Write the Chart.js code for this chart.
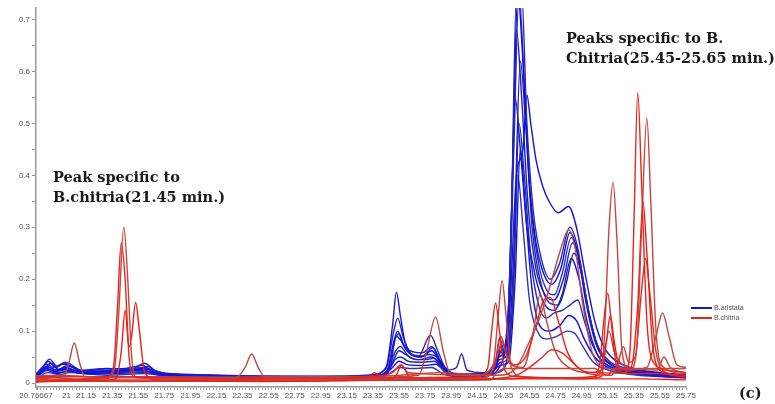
<!DOCTYPE html>
<html>
<head>
<meta charset="utf-8">
<script src="https://cdn.jsdelivr.net/npm/chart.js@4.4.0/dist/chart.umd.min.js"></script>
<style>
body { margin: 0; background: #fff; }
#wrap { position: relative; width: 775px; height: 404px; }
.note { position: absolute; font-family: "DejaVu Serif", serif; font-weight: bold; font-size: 14.5px; line-height: 19.5px; color: #1a1a1a; white-space: nowrap; }
#legend { position: absolute; left: 691px; top: 303px; font-family: "Liberation Sans", Arial, sans-serif; font-size: 7px; color: #555; line-height: 10px; }
#legend span.sw { display: inline-block; width: 21px; height: 2px; vertical-align: middle; margin-right: 2px; }
</style>
</head>
<body>
<div id="wrap">
  <canvas id="myChart" width="775" height="404"></canvas>
  <div class="note" style="left:53px;top:167px;">Peak specific to<br>B.chitria(21.45 min.)</div>
  <div class="note" style="left:566px;top:28px;">Peaks specific to B.<br>Chitria(25.45-25.65 min.)</div>
  <div class="note" style="left:739px;top:383px;">(c)</div>
  <div id="legend"></div>
</div>
<script>
// тики оси X (время, мин)
const xMajor = [20.76667, 21, 21.15, 21.35, 21.55, 21.75, 21.95, 22.15, 22.35, 22.55, 22.75, 22.95, 23.15,
  23.35, 23.55, 23.75, 23.95, 24.15, 24.35, 24.55, 24.75, 24.95, 25.15, 25.35, 25.55, 25.75];
const xLabels = ['20.76667', '21', '21.15', '21.35', '21.55', '21.75', '21.95', '22.15', '22.35', '22.55', '22.75', '22.95', '23.15',
  '23.35', '23.55', '23.75', '23.95', '24.15', '24.35', '24.55', '24.75', '24.95', '25.15', '25.35', '25.55', '25.75'];
const yMajor = [0, 0.1, 0.2, 0.3, 0.4, 0.5, 0.6, 0.7];
const yLabels = ['0', '0.1', '0.2', '0.3', '0.4', '0.5', '0.6', '0.7'];

// B.aristata
const aristata1 = [[20.767,0.016],[20.82,0.03],[20.86,0.042],[20.92,0.03],[20.97,0.036],[21.02,0.034],[21.1,0.024],[21.25,0.027],[21.45,0.028],[21.58,0.034],[21.66,0.022],[21.8,0.018],[22.1,0.015],[22.6,0.013],[23.1,0.013],[23.35,0.016],[23.45,0.03],[23.5,0.11],[23.53,0.175],[23.56,0.13],[23.6,0.075],[23.66,0.06],[23.73,0.058],[23.8,0.07],[23.86,0.045],[23.95,0.02],[24.1,0.016],[24.25,0.022],[24.31,0.05],[24.36,0.06],[24.4,0.15],[24.45,0.4],[24.5,0.45],[24.53,0.555],[24.56,0.5],[24.6,0.43],[24.65,0.38],[24.7,0.35],[24.77,0.328],[24.85,0.34],[24.91,0.3],[24.97,0.22],[25.05,0.12],[25.12,0.07],[25.2,0.045],[25.35,0.028],[25.55,0.02],[25.75,0.016]];
const aristata2 = [[20.767,0.014],[20.83,0.035],[20.87,0.046],[20.93,0.032],[20.99,0.04],[21.04,0.035],[21.12,0.022],[21.3,0.028],[21.5,0.027],[21.6,0.038],[21.68,0.024],[21.85,0.017],[22.2,0.014],[22.8,0.012],[23.3,0.014],[23.45,0.028],[23.51,0.1],[23.54,0.125],[23.58,0.09],[23.63,0.06],[23.7,0.052],[23.79,0.092],[23.85,0.06],[23.92,0.025],[23.99,0.03],[24.03,0.056],[24.07,0.025],[24.2,0.02],[24.29,0.04],[24.32,0.087],[24.36,0.06],[24.41,0.3],[24.45,0.75],[24.49,0.75],[24.53,0.5],[24.58,0.33],[24.64,0.24],[24.71,0.2],[24.78,0.23],[24.86,0.3],[24.92,0.26],[24.98,0.17],[25.06,0.08],[25.15,0.045],[25.3,0.028],[25.5,0.02],[25.75,0.014]];
const aristata3 = [[20.767,0.01],[20.84,0.03],[20.88,0.038],[20.94,0.026],[21.0,0.033],[21.06,0.03],[21.15,0.02],[21.35,0.024],[21.55,0.026],[21.62,0.032],[21.7,0.02],[21.9,0.015],[22.4,0.012],[23.0,0.011],[23.35,0.013],[23.46,0.025],[23.51,0.08],[23.54,0.1],[23.58,0.075],[23.64,0.055],[23.72,0.05],[23.8,0.062],[23.87,0.038],[23.95,0.018],[24.2,0.016],[24.3,0.035],[24.33,0.07],[24.37,0.05],[24.42,0.4],[24.46,0.75],[24.5,0.62],[24.55,0.38],[24.6,0.27],[24.66,0.21],[24.72,0.19],[24.79,0.22],[24.86,0.29],[24.92,0.25],[24.98,0.16],[25.06,0.075],[25.15,0.04],[25.3,0.025],[25.5,0.018],[25.75,0.013]];
const aristata4 = [[20.767,0.018],[20.85,0.036],[20.9,0.03],[20.98,0.038],[21.05,0.03],[21.15,0.023],[21.4,0.025],[21.6,0.03],[21.7,0.02],[22.0,0.016],[22.5,0.013],[23.2,0.012],[23.4,0.015],[23.47,0.03],[23.52,0.085],[23.55,0.095],[23.59,0.07],[23.65,0.055],[23.73,0.052],[23.81,0.068],[23.88,0.035],[23.96,0.018],[24.22,0.018],[24.3,0.04],[24.34,0.065],[24.38,0.06],[24.43,0.45],[24.47,0.75],[24.51,0.58],[24.56,0.35],[24.62,0.23],[24.68,0.18],[24.74,0.17],[24.8,0.21],[24.87,0.28],[24.93,0.24],[24.99,0.15],[25.07,0.07],[25.16,0.038],[25.3,0.024],[25.5,0.018],[25.75,0.013]];
const aristata5 = [[20.767,0.012],[20.85,0.032],[20.92,0.025],[21.0,0.03],[21.1,0.022],[21.3,0.022],[21.6,0.028],[21.75,0.018],[22.2,0.013],[23.0,0.01],[23.4,0.013],[23.48,0.03],[23.53,0.09],[23.57,0.08],[23.62,0.06],[23.7,0.05],[23.78,0.055],[23.84,0.05],[23.9,0.03],[24.0,0.015],[24.25,0.018],[24.33,0.06],[24.37,0.05],[24.41,0.3],[24.45,0.68],[24.49,0.55],[24.54,0.34],[24.6,0.22],[24.67,0.17],[24.74,0.16],[24.81,0.2],[24.88,0.27],[24.94,0.23],[25.0,0.14],[25.08,0.065],[25.18,0.035],[25.35,0.022],[25.55,0.016],[25.75,0.012]];
const aristata6 = [[20.767,0.015],[20.86,0.03],[20.93,0.024],[21.0,0.028],[21.12,0.02],[21.4,0.022],[21.62,0.026],[21.8,0.016],[22.4,0.012],[23.2,0.011],[23.45,0.018],[23.52,0.06],[23.56,0.07],[23.62,0.052],[23.7,0.045],[23.8,0.05],[23.9,0.025],[24.0,0.014],[24.26,0.02],[24.32,0.045],[24.38,0.055],[24.43,0.25],[24.48,0.62],[24.52,0.5],[24.57,0.3],[24.63,0.2],[24.7,0.155],[24.77,0.15],[24.83,0.19],[24.89,0.25],[24.95,0.21],[25.01,0.13],[25.09,0.06],[25.2,0.032],[25.4,0.02],[25.75,0.012]];
const aristata7 = [[20.767,0.011],[20.85,0.028],[20.92,0.022],[21.0,0.026],[21.1,0.019],[21.35,0.02],[21.58,0.024],[21.75,0.015],[22.3,0.012],[23.1,0.01],[23.42,0.014],[23.5,0.04],[23.55,0.062],[23.6,0.055],[23.68,0.045],[23.76,0.045],[23.82,0.048],[23.9,0.025],[24.0,0.013],[24.22,0.016],[24.3,0.03],[24.35,0.05],[24.4,0.2],[24.44,0.55],[24.48,0.45],[24.53,0.3],[24.6,0.2],[24.67,0.15],[24.74,0.14],[24.8,0.17],[24.87,0.24],[24.93,0.2],[24.99,0.12],[25.07,0.055],[25.18,0.03],[25.4,0.018],[25.75,0.011]];
const aristata8 = [[20.767,0.013],[20.86,0.026],[20.94,0.02],[21.02,0.024],[21.15,0.018],[21.4,0.02],[21.6,0.022],[21.8,0.014],[22.5,0.011],[23.3,0.01],[23.45,0.016],[23.52,0.045],[23.56,0.05],[23.62,0.042],[23.72,0.04],[23.82,0.042],[23.9,0.022],[24.0,0.012],[24.25,0.015],[24.33,0.04],[24.38,0.045],[24.43,0.2],[24.47,0.5],[24.51,0.4],[24.56,0.24],[24.62,0.15],[24.68,0.125],[24.74,0.135],[24.8,0.14],[24.86,0.15],[24.92,0.16],[24.97,0.12],[25.03,0.075],[25.1,0.045],[25.2,0.028],[25.4,0.017],[25.75,0.011]];
const aristata9 = [[20.767,0.01],[20.85,0.024],[20.93,0.018],[21.0,0.022],[21.2,0.017],[21.6,0.02],[21.8,0.013],[22.6,0.01],[23.4,0.011],[23.5,0.03],[23.55,0.042],[23.62,0.035],[23.75,0.034],[23.83,0.036],[23.92,0.018],[24.1,0.012],[24.28,0.018],[24.34,0.035],[24.39,0.04],[24.44,0.2],[24.48,0.45],[24.52,0.33],[24.57,0.18],[24.63,0.11],[24.7,0.1],[24.78,0.11],[24.85,0.13],[24.91,0.12],[24.97,0.085],[25.05,0.05],[25.15,0.03],[25.35,0.018],[25.75,0.01]];
const aristata10 = [[20.767,0.009],[20.86,0.02],[20.95,0.016],[21.02,0.02],[21.3,0.015],[21.6,0.018],[21.8,0.012],[22.7,0.009],[23.4,0.01],[23.5,0.022],[23.55,0.03],[23.65,0.028],[23.8,0.03],[23.9,0.016],[24.1,0.011],[24.3,0.02],[24.36,0.03],[24.42,0.15],[24.46,0.4],[24.5,0.3],[24.55,0.16],[24.61,0.1],[24.68,0.085],[24.76,0.09],[24.84,0.1],[24.9,0.095],[24.96,0.07],[25.04,0.04],[25.15,0.025],[25.35,0.016],[25.75,0.01]];

// B.chitria
const chitria1 = [[20.767,0.008],[20.9,0.01],[21.1,0.008],[21.3,0.01],[21.36,0.03],[21.39,0.14],[21.42,0.27],[21.45,0.2],[21.48,0.05],[21.52,0.012],[21.8,0.01],[22.3,0.008],[23.0,0.009],[23.5,0.01],[24.15,0.012],[24.23,0.03],[24.26,0.1],[24.29,0.154],[24.32,0.1],[24.36,0.025],[24.45,0.012],[24.8,0.01],[25.05,0.012],[25.09,0.04],[25.12,0.12],[25.15,0.173],[25.18,0.11],[25.22,0.03],[25.28,0.02],[25.32,0.06],[25.35,0.3],[25.38,0.56],[25.41,0.38],[25.45,0.12],[25.5,0.04],[25.6,0.025],[25.75,0.02]];
const chitria2 = [[20.767,0.005],[21.0,0.007],[21.3,0.008],[21.37,0.03],[21.4,0.13],[21.44,0.3],[21.47,0.2],[21.5,0.05],[21.54,0.01],[22.0,0.007],[22.8,0.006],[23.5,0.008],[24.2,0.01],[24.27,0.03],[24.31,0.13],[24.34,0.197],[24.37,0.13],[24.41,0.03],[24.5,0.012],[24.9,0.01],[25.08,0.015],[25.12,0.07],[25.16,0.3],[25.19,0.387],[25.22,0.28],[25.26,0.06],[25.32,0.025],[25.37,0.06],[25.41,0.3],[25.45,0.51],[25.48,0.35],[25.52,0.1],[25.58,0.03],[25.75,0.018]];
const chitria3 = [[20.767,0.003],[21.2,0.005],[21.38,0.008],[21.42,0.06],[21.45,0.14],[21.48,0.07],[21.5,0.09],[21.53,0.155],[21.56,0.1],[21.6,0.02],[21.7,0.006],[22.5,0.004],[23.4,0.006],[24.3,0.008],[24.9,0.008],[25.1,0.012],[25.14,0.08],[25.17,0.13],[25.2,0.08],[25.25,0.02],[25.33,0.03],[25.38,0.15],[25.42,0.35],[25.45,0.25],[25.5,0.06],[25.58,0.02],[25.75,0.012]];
const chitria4 = [[20.767,0.01],[20.98,0.012],[21.02,0.04],[21.06,0.077],[21.1,0.04],[21.14,0.012],[21.6,0.01],[22.3,0.01],[22.37,0.03],[22.42,0.056],[22.47,0.03],[22.52,0.012],[23.2,0.01],[23.7,0.015],[23.76,0.06],[23.83,0.127],[23.89,0.06],[23.95,0.015],[24.3,0.015],[24.45,0.03],[24.55,0.08],[24.62,0.12],[24.7,0.18],[24.78,0.25],[24.85,0.295],[24.9,0.26],[24.96,0.15],[25.03,0.06],[25.12,0.03],[25.3,0.025],[25.45,0.03],[25.52,0.09],[25.57,0.135],[25.62,0.09],[25.68,0.035],[25.75,0.03]];
const chitria5 = [[20.767,0.006],[21.5,0.006],[22.5,0.005],[23.5,0.007],[24.2,0.008],[24.45,0.015],[24.55,0.03],[24.65,0.05],[24.72,0.064],[24.8,0.058],[24.9,0.035],[25.0,0.018],[25.18,0.015],[25.23,0.04],[25.27,0.07],[25.31,0.04],[25.36,0.05],[25.41,0.18],[25.44,0.24],[25.47,0.18],[25.52,0.06],[25.6,0.02],[25.75,0.012]];
const chitria6 = [[20.767,0.012],[21.3,0.012],[21.9,0.01],[22.6,0.01],[23.3,0.012],[23.5,0.02],[23.56,0.035],[23.62,0.02],[24.2,0.015],[24.28,0.03],[24.33,0.09],[24.37,0.06],[24.43,0.035],[24.52,0.05],[24.6,0.11],[24.66,0.16],[24.71,0.165],[24.77,0.12],[24.84,0.06],[24.92,0.03],[25.05,0.02],[25.5,0.018],[25.75,0.015]];
const chitria7 = [[20.767,0.004],[21.5,0.004],[22.5,0.004],[23.5,0.005],[24.25,0.006],[24.3,0.02],[24.36,0.028],[24.7,0.028],[25.05,0.028],[25.1,0.02],[25.15,0.015],[25.2,0.028],[25.5,0.028],[25.75,0.028]];
const chitria8 = [[20.767,0.002],[21.0,0.004],[21.5,0.003],[22.0,0.004],[22.5,0.003],[23.0,0.004],[23.3,0.006],[23.36,0.02],[23.42,0.008],[23.52,0.012],[23.57,0.035],[23.63,0.012],[24.0,0.006],[24.4,0.008],[24.6,0.01],[25.0,0.008],[25.4,0.008],[25.75,0.006]];
const chitria9 = [[20.767,0.014],[20.95,0.015],[21.2,0.012],[21.7,0.012],[22.2,0.011],[22.9,0.012],[23.5,0.014],[23.85,0.02],[24.2,0.016],[24.3,0.05],[24.34,0.08],[24.39,0.04],[24.5,0.03],[24.58,0.1],[24.63,0.17],[24.68,0.12],[24.75,0.06],[24.85,0.03],[25.0,0.02],[25.1,0.025],[25.16,0.1],[25.2,0.06],[25.3,0.03],[25.53,0.025],[25.58,0.05],[25.63,0.03],[25.75,0.02]];

const aristata = [aristata1, aristata2, aristata3, aristata4, aristata5, aristata6, aristata7, aristata8, aristata9, aristata10];
const chitria = [chitria1, chitria2, chitria3, chitria4, chitria5, chitria6, chitria7, chitria8, chitria9];

const blues = ['#1414e0', '#2a2aa8', '#0a0af0', '#3434b4', '#1c1cd0', '#23239a'];
const reds = ['#e3261e', '#c8433a', '#f01c14', '#b84a40', '#d8302a'];

let datasets = [];
aristata.forEach(function (s, i) {
  datasets.push({
    label: 'B.aristata',
    data: s.map(p => ({ x: p[0], y: p[1] })),
    borderColor: blues[i % blues.length],
    borderWidth: 1.4,
    pointRadius: 0,
    cubicInterpolationMode: 'monotone',
    order: 2
  });
});
chitria.forEach(function (s, i) {
  datasets.push({
    label: 'B.chitria',
    data: s.map(p => ({ x: p[0], y: p[1] })),
    borderColor: reds[i % reds.length],
    borderWidth: 1.4,
    pointRadius: 0,
    cubicInterpolationMode: 'monotone',
    order: 1
  });
});

function near(list, v) {
  for (let i = 0; i < list.length; i++) {
    if (Math.abs(list[i] - v) < 1e-6) return i;
  }
  return -1;
}

const ctx = document.getElementById('myChart').getContext('2d');
const chart = new Chart(ctx, {
  type: 'line',
  data: { datasets: datasets },
  options: {
    responsive: false,
    animation: false,
    layout: { padding: { top: 8, right: 89, left: 0, bottom: 0 } },
    plugins: { legend: { display: false }, tooltip: { enabled: false } },
    scales: {
      x: {
        type: 'linear',
        min: 20.76667,
        max: 25.75,
        border: { color: '#999', width: 1.5 },
        grid: { drawOnChartArea: false, tickLength: 3, color: '#999' },
        afterBuildTicks: function (scale) {
          let t = xMajor.slice();
          // мелкие риски
          for (let v = 20.775; v < 25.75; v += 0.025) {
            if (near(xMajor, v) < 0) t.push(v);
          }
          t.sort((a, b) => a - b);
          scale.ticks = t.map(v => ({ value: v }));
        },
        afterFit: function (scale) { scale.height = 17; },
        ticks: {
          autoSkip: false,
          maxRotation: 0,
          padding: 1,
          font: { family: 'Liberation Sans', size: 8 },
          color: '#555',
          callback: function (v) {
            const i = near(xMajor, v);
            return i < 0 ? '' : xLabels[i];
          }
        }
      },
      y: {
        min: -0.0077,
        max: 0.7225,
        border: { color: '#999', width: 1.5 },
        grid: { drawOnChartArea: false, tickLength: 4, color: '#999' },
        afterBuildTicks: function (scale) {
          let t = [];
          for (let k = 0; k <= 14; k++) t.push(k * 0.05);
          scale.ticks = t.map(v => ({ value: v }));
        },
        afterFit: function (scale) { scale.width = 36; },
        ticks: {
          autoSkip: false,
          padding: 2,
          font: { family: 'Liberation Sans', size: 8 },
          color: '#555',
          callback: function (v) {
            const i = near(yMajor, v);
            return i < 0 ? '' : yLabels[i];
          }
        }
      }
    }
  }
});

// легенда
const lg = document.getElementById('legend');
[['B.aristata', blues[0]], ['B.chitria', reds[0]]].forEach(function (e) {
  lg.innerHTML += '<div><span class="sw" style="background:' + e[1] + '"></span>' + e[0] + '</div>';
});
</script>
</body>
</html>
